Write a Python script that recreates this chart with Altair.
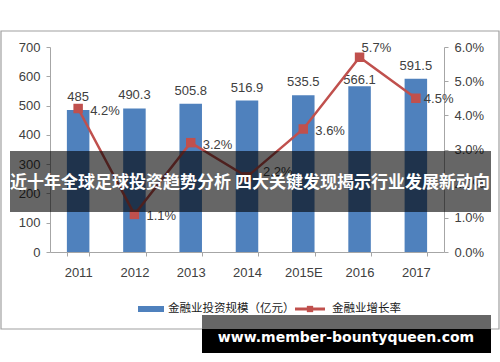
import altair as alt
import pandas as pd

years = ["2011", "2012", "2013", "2014", "2015E", "2016", "2017"]
invest = [485, 490.3, 505.8, 516.9, 535.5, 566.1, 591.5]
rate = [0.042, 0.011, 0.032, 0.022, 0.036, 0.057, 0.045]
invest_labels = ["485", "490.3", "505.8", "516.9", "535.5", "566.1", "591.5"]
rate_labels = ["4.2%", "1.1%", "3.2%", "2.2%", "3.6%", "5.7%", "4.5%"]

legend_bar = "金融业投资规模（亿元）"
legend_line = "金融业增长率"
banner_text = "近十年全球足球投资趋势分析 四大关键发现揭示行业发展新动向"
url_text = "www.member-bountyqueen.com"

df = pd.DataFrame({"year": years, "invest": invest, "rate": rate,
                   "ilab": invest_labels, "rlab": rate_labels})

BLUE = "#4f81bd"
RED = "#c0504d"
AX = "#a6a6a6"
TXT = "#404040"
NUM_FONT = "Liberation Sans"
CJK = "Noto Sans CJK SC"

xenc = alt.X("year:N", sort=years, title=None,
             scale=alt.Scale(paddingInner=0.6, paddingOuter=0.3),
             axis=alt.Axis(tickBand="extent", labelAngle=0, labelPadding=10,
                           domainColor=AX, tickColor=AX, tickSize=4,
                           labelColor=TXT, labelFont=NUM_FONT, labelFontSize=13))

base = alt.Chart(df)

yleft = alt.Y("invest:Q", title=None,
              scale=alt.Scale(domain=[0, 700], nice=False),
              axis=alt.Axis(values=[0, 100, 200, 300, 400, 500, 600, 700], grid=False,
                            domainColor=AX, tickColor=AX, tickSize=4, labelPadding=6,
                            labelColor=TXT, labelFont=NUM_FONT, labelFontSize=13))

bars = base.mark_bar(color=BLUE).encode(x=xenc, y=yleft)
bar_text = base.transform_filter(alt.datum.year != "2016").mark_text(
    font=NUM_FONT, fontSize=13, color=TXT, baseline="alphabetic", dy=-9).encode(
    x=xenc, y=yleft, text="ilab:N")
bar_text16 = base.transform_filter(alt.datum.year == "2016").mark_text(
    font=NUM_FONT, fontSize=13, color=TXT, baseline="alphabetic", dy=-2).encode(
    x=xenc, y=yleft, text="ilab:N")
left = alt.layer(bars, bar_text, bar_text16)

yright = alt.Y("rate:Q", title=None,
               scale=alt.Scale(domain=[0, 0.06], nice=False),
               axis=alt.Axis(orient="right", format=".1%",
                             values=[0, 0.01, 0.02, 0.03, 0.04, 0.05, 0.06], grid=False,
                             domainColor=AX, tickColor=AX, tickSize=4, labelPadding=6,
                             labelColor=TXT, labelFont=NUM_FONT, labelFontSize=13))

line = base.mark_line(color=RED, strokeWidth=2.5).encode(x=xenc, y=yright)
pts = base.mark_square(color=RED, size=90, opacity=1).encode(x=xenc, y=yright)
rate_text = base.transform_filter(
    (alt.datum.year != "2016") & (alt.datum.year != "2017") & (alt.datum.year != "2014")
).mark_text(font=NUM_FONT, fontSize=13, color=TXT, align="left",
            baseline="middle", dx=12, dy=2).encode(x=xenc, y=yright, text="rlab:N")
rate_text16 = base.transform_filter(alt.datum.year == "2016").mark_text(
    font=NUM_FONT, fontSize=13, color=TXT, align="left",
    baseline="middle", dx=2, dy=-9).encode(x=xenc, y=yright, text="rlab:N")
rate_text14 = base.transform_filter(alt.datum.year == "2014").mark_text(
    font=NUM_FONT, fontSize=13, color=TXT, align="left",
    baseline="middle", dx=16, dy=-5).encode(x=xenc, y=yright, text="rlab:N")
rate_text17 = base.transform_filter(alt.datum.year == "2017").mark_text(
    font=NUM_FONT, fontSize=13, color=TXT, align="left",
    baseline="middle", dx=8, dy=1).encode(x=xenc, y=yright, text="rlab:N")
right = alt.layer(line, pts, rate_text, rate_text16, rate_text14, rate_text17)

main = alt.layer(left, right).resolve_scale(y="independent")

one = pd.DataFrame({"k": [0]})
deco = alt.Chart(one)

border = deco.mark_rect(filled=False, stroke="#a0a0a0", strokeWidth=1.2).encode(
    x=alt.value(-49), x2=alt.value(449), y=alt.value(-16), y2=alt.value(282))

leg_rect = deco.mark_rect(color=BLUE).encode(
    x=alt.value(88), x2=alt.value(114), y=alt.value(259), y2=alt.value(265))
leg_t1 = deco.mark_text(text=legend_bar, font=CJK, fontSize=11.5, color="#202020",
                        align="left", baseline="middle").encode(x=alt.value(118), y=alt.value(262))
leg_line = deco.mark_rule(color=RED, strokeWidth=3).encode(
    x=alt.value(245), x2=alt.value(275), y=alt.value(262))
leg_pt = deco.mark_square(color=RED, size=40, opacity=1).encode(x=alt.value(260), y=alt.value(262))
leg_t2 = deco.mark_text(text=legend_line, font=CJK, fontSize=11.5, color="#202020",
                        align="left", baseline="middle").encode(x=alt.value(282), y=alt.value(262))

banner = deco.mark_rect(color="black", opacity=0.6).encode(
    x=alt.value(-40), x2=alt.value(441), y=alt.value(104), y2=alt.value(165))
banner_t = deco.mark_text(text=banner_text, font=CJK, fontSize=17, fontWeight="bold",
                          color="white", align="center", baseline="middle").encode(
    x=alt.value(200), y=alt.value(136))

url_grey = deco.mark_rect(color="#666666").encode(
    x=alt.value(152), x2=alt.value(441), y=alt.value(268), y2=alt.value(282))
url_black = deco.mark_rect(color="black").encode(
    x=alt.value(152), x2=alt.value(441), y=alt.value(282), y2=alt.value(306))
url_t = deco.mark_text(text=url_text, font="DejaVu Sans", fontSize=14, fontWeight="bold",
                       color="white", align="center", baseline="alphabetic").encode(
    x=alt.value(296), y=alt.value(295))

chart = alt.layer(border, main, leg_rect, leg_t1, leg_line, leg_pt, leg_t2,
                  banner, banner_t, url_grey, url_black, url_t).properties(
    width=394, height=205,
    padding={"left": 50, "top": 47, "right": 56, "bottom": 110},
    autosize=alt.AutoSizeParams(type="none"),
    background="white",
).configure_view(stroke=None)

chart.save("out.html", embed_options={"renderer": "svg", "actions": False})
